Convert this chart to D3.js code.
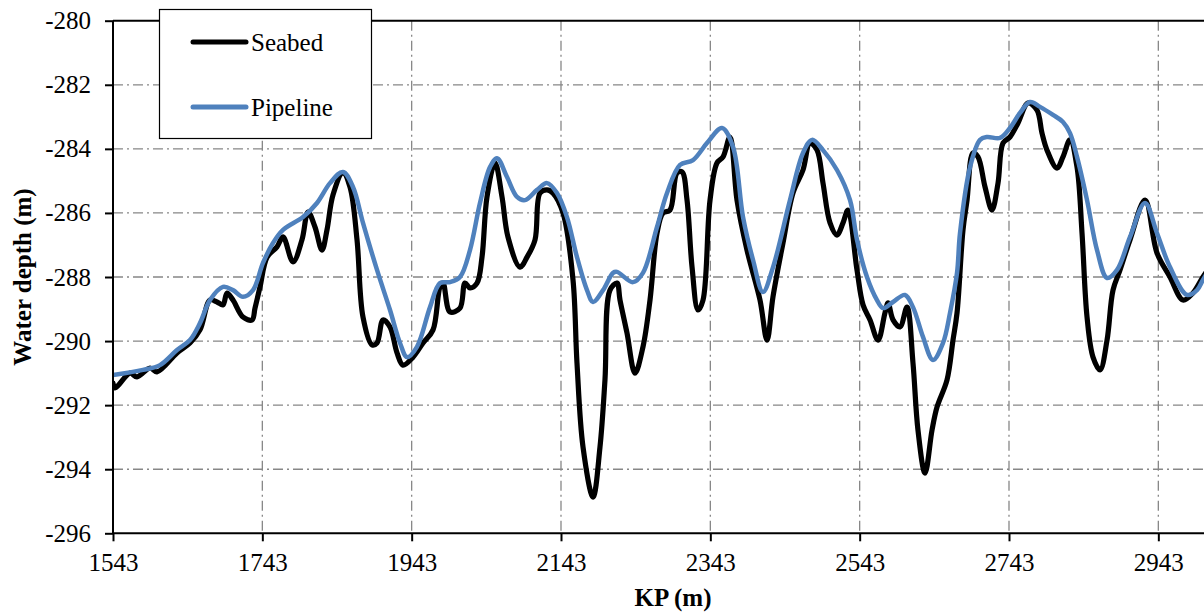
<!DOCTYPE html>
<html>
<head>
<meta charset="utf-8">
<script src="https://cdn.jsdelivr.net/npm/d3@7"></script>
<style>
  html, body { margin: 0; padding: 0; background: #fff; }
  svg { display: block; }
  svg text { font-family: "Liberation Serif", "Times New Roman", serif !important; fill: #000; }
</style>
</head>
<body>
<svg id="chart" width="1204" height="614"></svg>
<script>
// ---- Data ----
const xTicks = [1543, 1743, 1943, 2143, 2343, 2543, 2743, 2943];
const yTicks = [-280, -282, -284, -286, -288, -290, -292, -294, -296];

const seabedKP = [1543, 1545.7, 1565.8, 1575.1, 1592.6, 1601.9, 1628.7, 1646.1, 1659.5, 1672.9,
  1682.3, 1690.3, 1695.7, 1703.7, 1717.1, 1729.2, 1733.2, 1739.9, 1749.3, 1762.6,
  1770.7, 1784.1, 1796.1, 1804.2, 1813.5, 1822.9, 1829.6, 1837.6, 1851.0, 1860.4,
  1869.8, 1877.8, 1889.9, 1896.6, 1904.6, 1914.0, 1923.4, 1931.4, 1944.8, 1958.2,
  1971.6, 1980.9, 1985.0, 1994.3, 2007.7, 2014.4, 2021.1, 2030.5, 2037.2, 2043.9,
  2054.6, 2064.0, 2072.0, 2088.1, 2097.5, 2108.2, 2114.9, 2124.3, 2132.3, 2145.7,
  2159.1, 2164.4, 2172.5, 2185.9, 2195.2, 2201.9, 2208.6, 2218.0, 2222.0, 2231.4,
  2242.1, 2252.8, 2262.2, 2271.6, 2279.6, 2289.0, 2298.4, 2305.1, 2311.8, 2318.5,
  2326.5, 2333.2, 2342.6, 2351.9, 2360.0, 2369.3, 2378.7, 2392.1, 2409.5, 2418.9,
  2426.9, 2440.3, 2453.7, 2467.1, 2476.5, 2485.9, 2493.9, 2503.3, 2512.6, 2520.7,
  2527.4, 2539.4, 2547.5, 2556.9, 2567.6, 2576.9, 2581.0, 2587.7, 2597.0, 2606.4,
  2614.4, 2621.1, 2630.5, 2639.9, 2646.6, 2660.0, 2668.0, 2673.4, 2681.4, 2686.8,
  2694.8, 2701.5, 2710.9, 2720.2, 2728.3, 2735.0, 2744.3, 2755.1, 2768.5, 2780.5,
  2787.2, 2793.9, 2807.3, 2815.3, 2824.7, 2834.1, 2840.8, 2847.5, 2855.5, 2864.9,
  2874.3, 2882.3, 2891.7, 2905.1, 2925.2, 2941.2, 2958.6, 2976.1, 2989.4, 3002.8, 3018.9];
const seabedDepth = [-291.31, -291.46, -291.00, -291.12, -290.84, -290.96, -290.37, -290.06, -289.65, -288.72,
  -288.78, -288.87, -288.50, -288.72, -289.25, -289.34, -288.97, -288.31, -287.38, -287.06,
  -286.75, -287.53, -286.84, -285.97, -286.44, -287.16, -286.53, -285.44, -284.75, -285.19,
  -286.84, -289.25, -290.12, -290.06, -289.34, -289.56, -290.37, -290.75, -290.50, -290.06,
  -289.65, -288.31, -288.19, -289.09, -288.97, -288.19, -288.34, -288.19, -287.38, -285.50,
  -284.44, -285.50, -286.75, -287.69, -287.38, -286.84, -285.38, -285.28, -285.38, -286.00,
  -288.09, -290.68, -293.31, -294.87, -293.31, -291.21, -288.41, -288.19, -288.72, -289.75,
  -291.00, -290.18, -288.72, -286.63, -286.00, -285.91, -284.75, -284.72, -285.60, -287.69,
  -289.03, -288.72, -285.60, -284.44, -284.25, -283.63, -285.60, -287.16, -288.72, -289.97,
  -288.62, -286.94, -285.38, -284.66, -283.82, -284.04, -285.07, -286.31, -286.69, -286.31,
  -285.91, -287.78, -288.87, -289.34, -289.97, -289.12, -288.81, -289.34, -289.56, -288.94,
  -290.68, -292.78, -294.12, -292.78, -292.06, -291.21, -289.97, -289.12, -286.53, -285.60,
  -284.13, -284.25, -285.19, -285.91, -285.07, -283.82, -283.63, -283.19, -282.57, -282.79,
  -283.51, -284.04, -284.60, -284.25, -283.72, -284.57, -286.63, -289.25, -290.50, -290.90,
  -289.97, -288.41, -287.78, -286.84, -285.60, -287.25, -288.00, -288.72, -288.50, -288.00, -287.45];

const pipelineKP = [1543, 1583.2, 1605.9, 1628.7, 1646.1, 1659.5, 1672.9, 1690.3, 1703.7, 1717.1,
  1730.5, 1743.9, 1757.3, 1770.7, 1797.5, 1816.2, 1833.6, 1851.0, 1864.4, 1877.8,
  1896.6, 1914.0, 1927.4, 1936.8, 1950.1, 1967.6, 1980.9, 1994.3, 2007.7, 2021.1,
  2034.5, 2047.9, 2057.3, 2070.7, 2084.1, 2094.8, 2110.9, 2124.3, 2137.6, 2151.0,
  2164.4, 2177.8, 2185.9, 2199.3, 2212.7, 2218.0, 2239.4, 2252.8, 2271.6, 2285.0,
  2302.4, 2319.8, 2338.5, 2358.6, 2373.4, 2386.8, 2400.2, 2413.5, 2426.9, 2449.7,
  2467.1, 2479.2, 2493.9, 2512.6, 2530.1, 2539.4, 2552.8, 2566.2, 2574.3, 2587.7,
  2603.7, 2614.4, 2627.8, 2641.2, 2654.6, 2664.0, 2673.4, 2677.4, 2690.8, 2704.2,
  2713.5, 2731.0, 2744.3, 2757.7, 2771.1, 2784.5, 2801.9, 2815.3, 2824.7, 2834.1,
  2847.5, 2860.9, 2874.3, 2887.7, 2905.1, 2925.2, 2941.2, 2958.6, 2981.4, 2994.8, 3002.8, 3018.9];
const pipelineDepth = [-291.06, -290.90, -290.75, -290.28, -289.97, -289.44, -288.72, -288.31, -288.41, -288.62,
  -288.41, -287.56, -286.94, -286.53, -286.13, -285.69, -285.07, -284.72, -285.19, -286.31,
  -287.78, -289.03, -290.06, -290.50, -290.18, -288.94, -288.19, -288.16, -288.00, -287.16,
  -285.69, -284.57, -284.29, -284.88, -285.50, -285.60, -285.28, -285.07, -285.38, -286.13,
  -287.38, -288.41, -288.78, -288.41, -287.87, -287.84, -288.16, -287.87, -286.44, -285.38,
  -284.50, -284.35, -283.82, -283.35, -283.94, -286.13, -287.47, -288.47, -287.70, -285.60,
  -284.13, -283.72, -284.04, -284.66, -285.60, -286.84, -288.00, -288.72, -288.97, -288.78,
  -288.56, -288.94, -289.87, -290.59, -290.06, -289.12, -287.87, -286.63, -284.57, -283.72,
  -283.63, -283.66, -283.35, -282.88, -282.54, -282.69, -282.94, -283.16, -283.51, -284.25,
  -285.60, -287.16, -288.03, -287.78, -286.75, -285.69, -286.63, -287.69, -288.56, -288.41, -288.09, -287.47];

const seriesNames = ["Seabed", "Pipeline"];
const seriesColors = ["#000000", "#4F81BD"];

// ---- Layout ----
const svg = d3.select("#chart");
const pLeft = 113, pRight = 1233, pTop = 20.7, pBottom = 533.3;

const x = d3.scaleLinear().domain([1543, 3043]).range([pLeft, pRight]);
const y = d3.scaleLinear().domain([-296, -280]).range([pBottom, pTop]);

// gridlines
const grid = svg.append("g");
grid.selectAll("line.h").data(yTicks.filter(v => v !== -280 && v !== -296)).enter()
  .append("line")
  .attr("x1", pLeft).attr("x2", pRight)
  .attr("y1", d => y(d)).attr("y2", d => y(d))
  .attr("stroke", "#878787").attr("stroke-width", 1.3)
  .attr("stroke-dasharray", "10,4,2,4");
grid.selectAll("line.v").data(xTicks.filter(v => v !== 1543)).enter()
  .append("line")
  .attr("x1", d => x(d)).attr("x2", d => x(d))
  .attr("y1", pTop).attr("y2", pBottom)
  .attr("stroke", "#878787").attr("stroke-width", 1.3)
  .attr("stroke-dasharray", "10,4,2,4");

// clip
svg.append("defs").append("clipPath").attr("id", "plotclip")
  .append("rect").attr("x", pLeft).attr("y", pTop).attr("width", pRight - pLeft).attr("height", pBottom - pTop);

const line = d3.line().x(d => x(d[0])).y(d => y(d[1])).curve(d3.curveCatmullRom.alpha(0.5));
const seabed = seabedKP.map((k, i) => [k, seabedDepth[i]]);
const pipeline = pipelineKP.map((k, i) => [k, pipelineDepth[i]]);

const plot = svg.append("g").attr("clip-path", "url(#plotclip)");
plot.append("path").datum(seabed).attr("d", line)
  .attr("fill", "none").attr("stroke", seriesColors[0]).attr("stroke-width", 5.2)
  .attr("stroke-linejoin", "round").attr("stroke-linecap", "round");
plot.append("path").datum(pipeline).attr("d", line)
  .attr("fill", "none").attr("stroke", seriesColors[1]).attr("stroke-width", 4.5)
  .attr("stroke-linejoin", "round").attr("stroke-linecap", "round");

// axes
const yAxis = d3.axisLeft(y).tickValues(yTicks).tickSize(8).tickPadding(14).tickFormat(d => String(d));
const gy = svg.append("g").attr("transform", `translate(${pLeft},0)`).call(yAxis);
const xAxis = d3.axisBottom(x).tickValues(xTicks).tickSize(8).tickPadding(12).tickFormat(d => String(d));
const gx = svg.append("g").attr("transform", `translate(0,${pBottom})`).call(xAxis);
[gx, gy].forEach(g => {
  g.attr("font-family", null);
  g.select(".domain").attr("stroke", "#000").attr("stroke-width", 2);
  g.selectAll(".tick line").attr("stroke", "#000").attr("stroke-width", 2);
  g.selectAll(".tick text").attr("font-size", 25).attr("fill", "#000");
});
gx.select(".domain").attr("d", `M${pLeft},0H${pRight}`);
gy.select(".domain").attr("d", `M0,${pBottom}V${pTop}`);

// top frame line
svg.append("line").attr("x1", pLeft).attr("x2", pRight).attr("y1", pTop).attr("y2", pTop)
  .attr("stroke", "#000").attr("stroke-width", 2);

// axis titles
svg.append("text").attr("x", (pLeft + pRight) / 2).attr("y", 606)
  .attr("text-anchor", "middle").attr("font-weight", "bold").attr("font-size", 25)
  .text("KP (m)");
svg.append("text").attr("transform", `translate(31,${(pTop + pBottom) / 2}) rotate(-90)`)
  .attr("text-anchor", "middle").attr("font-weight", "bold").attr("font-size", 25)
  .text("Water depth (m)");

// legend
const lg = svg.append("g");
lg.append("rect").attr("x", 159.5).attr("y", 9.5).attr("width", 212).attr("height", 129)
  .attr("fill", "#fff").attr("stroke", "#000").attr("stroke-width", 1.2);
const legY = [42, 107];
seriesNames.forEach((n, i) => {
  lg.append("line").attr("x1", 193).attr("x2", 246).attr("y1", legY[i]).attr("y2", legY[i])
    .attr("stroke", seriesColors[i]).attr("stroke-width", 5).attr("stroke-linecap", "round");
  lg.append("text").attr("x", 251).attr("y", legY[i] + 9).attr("font-size", 25).text(n);
});
</script>
</body>
</html>
